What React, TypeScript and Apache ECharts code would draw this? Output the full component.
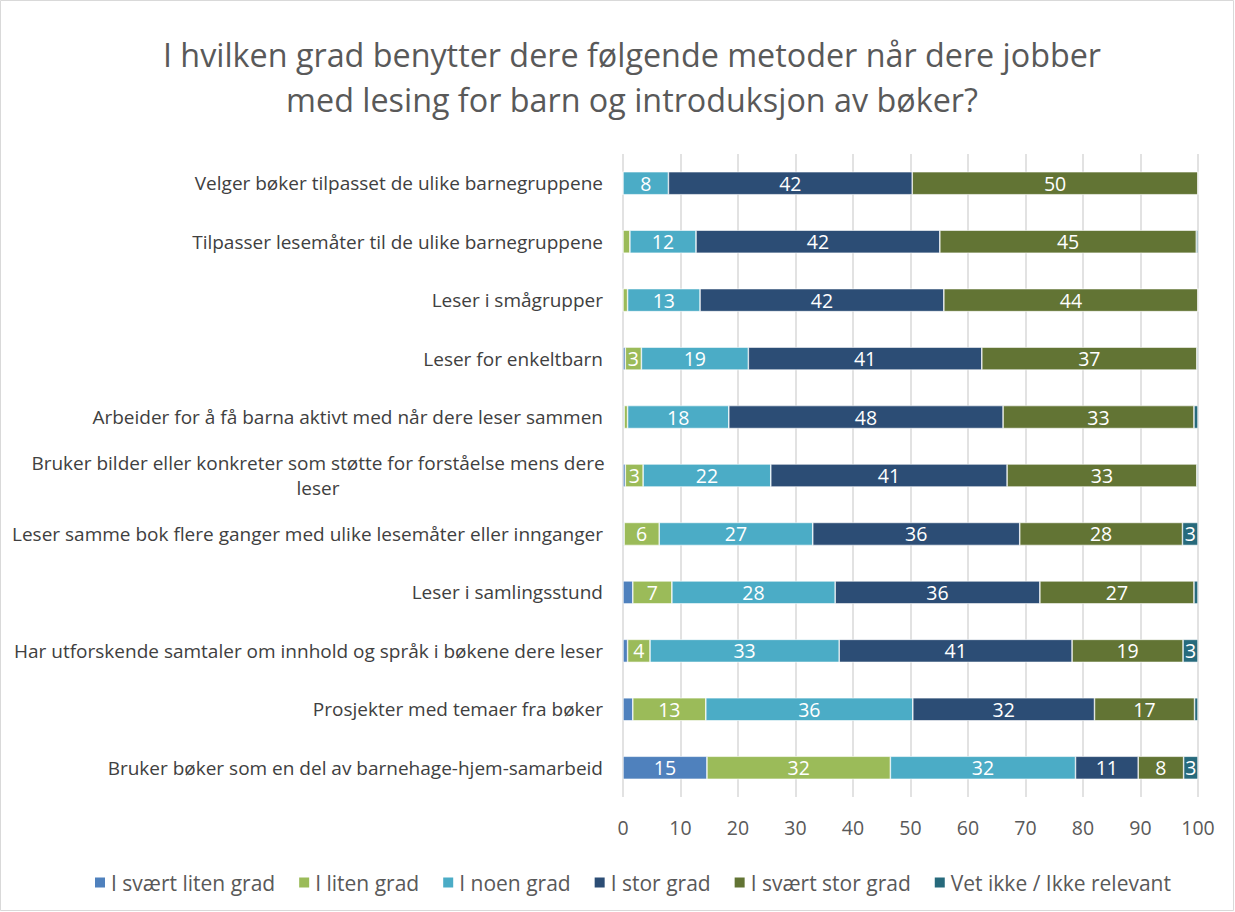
import React, { useEffect, useRef } from "react";
import * as echarts from "echarts";

const categories = [
  "Velger bøker tilpasset de ulike barnegruppene",
  "Tilpasser lesemåter til de ulike barnegruppene",
  "Leser i smågrupper",
  "Leser for enkeltbarn",
  "Arbeider for å få barna aktivt med når dere leser sammen",
  "Bruker bilder eller konkreter som støtte for forståelse mens dere\nleser",
  "Leser samme bok flere ganger med ulike lesemåter eller innganger",
  "Leser i samlingsstund",
  "Har utforskende samtaler om innhold og språk i bøkene dere leser",
  "Prosjekter med temaer fra bøker",
  "Bruker bøker som en del av barnehage-hjem-samarbeid",
];

const seriesNames = [
  "I svært liten grad",
  "I liten grad",
  "I noen grad",
  "I stor grad",
  "I svært stor grad",
  "Vet ikke / Ikke relevant",
];

const sværtLiten = [0, 0, 0, 0.4, 0.2, 0.4, 0.2, 1.7, 0.8, 1.7, 14.6];
const liten = [0, 1.2, 0.8, 2.8, 0.6, 3.1, 6.1, 6.8, 3.9, 12.7, 31.9];
const noen = [7.9, 11.5, 12.6, 18.6, 17.6, 22.2, 26.7, 28.4, 32.9, 36, 32.2];
const stor = [42.4, 42.4, 42.4, 40.6, 47.7, 41.1, 36, 35.6, 40.5, 31.6, 10.9];
const sværtStor = [49.7, 44.6, 44.2, 37.4, 33.2, 33, 28.3, 26.8, 19.3, 17.4, 7.9];
const vetIkke = [0, 0.3, 0, 0.2, 0.7, 0.2, 2.7, 0.7, 2.6, 0.6, 2.5];

const xTicks = [0, 10, 20, 30, 40, 50, 60, 70, 80, 90, 100];

const colors = ["#4F81BD", "#9BBB59", "#4BACC6", "#2C4D75", "#627434", "#276A7C"];

const FONT = "'Open Sans', 'Noto Sans', sans-serif";

export default function App() {
  const ref = useRef<HTMLDivElement>(null);
  useEffect(() => {
    document.body.style.margin = "0";
    const chart = echarts.init(ref.current!, null, { renderer: "svg" });
    const values = [sværtLiten, liten, noen, stor, sværtStor, vetIkke];
    const cats = [...categories].reverse();
    const series = values.map((arr, i) => ({
      name: seriesNames[i],
      type: "bar",
      stack: "total",
      barWidth: 23,
      data: [...arr].reverse(),
      itemStyle: { color: colors[i], borderColor: "#ffffff", borderWidth: 0.6 },
      label: {
        show: true,
        position: "inside",
        color: "#ffffff",
        fontFamily: FONT,
        fontSize: 19.5,
        formatter: (p: any) => (p.value >= 2.5 ? String(Math.round(p.value)) : ""),
      },
    }));
    chart.setOption({
      animation: false,
      backgroundColor: "#ffffff",
      title: {
        text: "I hvilken grad benytter dere følgende metoder når dere jobber\nmed lesing for barn og introduksjon av bøker?",
        left: 627,
        top: 26,
        textAlign: "center",
        textStyle: {
          fontFamily: FONT,
          fontSize: 32.3,
          fontWeight: "normal",
          color: "#595959",
          lineHeight: 45,
        },
      },
      legend: {
        bottom: 14,
        left: 88,
        itemWidth: 12,
        itemHeight: 12,
        itemGap: 22,
        icon: "rect",
        textStyle: { fontFamily: FONT, fontSize: 21, color: "#595959" },
        data: seriesNames,
      },
      grid: { left: 623, right: 37, top: 154, bottom: 115, containLabel: false, outerBoundsMode: "none" },
      xAxis: {
        type: "value",
        min: 0,
        max: 100,
        interval: 10,
        axisLine: { show: false },
        axisTick: { show: false },
        splitLine: { show: true, lineStyle: { color: "#d9d9d9", width: 1.5 } },
        axisLabel: {
          fontFamily: FONT,
          fontSize: 19.5,
          color: "#595959",
          margin: 20,
          formatter: (v: number) => (xTicks.includes(v) ? String(v) : ""),
        },
      },
      yAxis: {
        type: "category",
        data: cats,
        axisLine: { show: false },
        axisTick: { show: false },
        axisLabel: {
          fontFamily: FONT,
          fontSize: 19,
          color: "#404040",
          margin: 20,
          lineHeight: 25,
          formatter: (v: string) => {
            if (v.includes("\n")) {
              const [a, b] = v.split("\n");
              return `{c|${a}}\n{c|${b}}`;
            }
            return v;
          },
          rich: {
            c: { width: 570, align: "center", fontFamily: FONT, fontSize: 19, color: "#404040", lineHeight: 25 },
          },
        },
      },
      graphic: [
        {
          type: "rect",
          shape: { x: 0.5, y: 0.5, width: 1233, height: 910 },
          style: { fill: "none", stroke: "#d9d9d9", lineWidth: 1 },
          silent: true,
        },
      ],
      series,
    });
    return () => chart.dispose();
  }, []);
  return <div ref={ref} style={{ width: 1235, height: 912 }} />;
}
